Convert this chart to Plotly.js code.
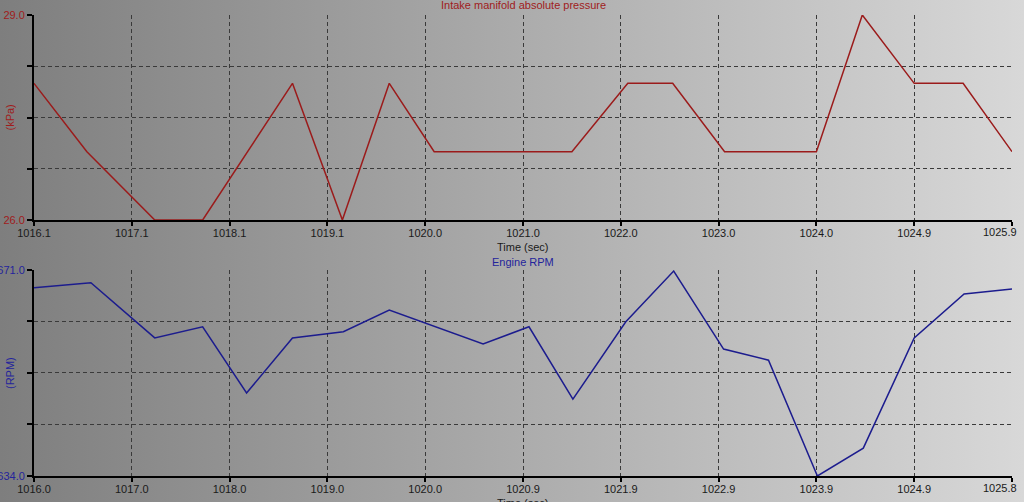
<!DOCTYPE html>
<html>
<head>
<meta charset="utf-8">
<script src="https://cdn.plot.ly/plotly-3.0.1.min.js"></script>
<style>
  html, body { margin: 0; padding: 0; }
  #chart { width: 1024px; height: 502px; background: linear-gradient(to right, #7e7e7e, #d8d8d8); }
</style>
</head>
<body>
<div id="chart"></div>
<script>
// ---- Data: Intake manifold absolute pressure ----
const mapTime = [1016.12, 1016.65, 1017.33, 1017.81, 1018.71, 1019.21, 1019.68, 1020.13, 1021.51, 1022.07, 1022.52, 1023.04, 1023.96, 1024.42, 1024.94, 1025.43, 1025.92];
const mapKpa  = [28, 27, 26, 26, 28, 26, 28, 27, 27, 28, 28, 27, 27, 29, 28, 28, 27];

// ---- Data: Engine RPM ----
const rpmTime = [1016.04, 1016.61, 1017.25, 1017.73, 1018.17, 1018.63, 1019.14, 1019.60, 1020.54, 1021.00, 1021.44, 1021.97, 1022.45, 1022.95, 1023.40, 1023.89, 1024.35, 1024.86, 1025.36, 1025.84];
const rpmVal  = [667.8, 668.7, 658.8, 660.8, 648.9, 658.8, 659.9, 663.8, 657.7, 660.8, 647.8, 661.7, 670.8, 656.8, 654.8, 634.0, 639.0, 658.8, 666.7, 667.6];

// ---- Tick positions / labels ----
const mapXTicks  = [1016.12, 1017.10, 1018.08, 1019.06, 1020.04, 1021.02, 1022.00, 1022.98, 1023.96, 1024.94, 1025.92];
const mapXLabels = ["1016.1", "1017.1", "1018.1", "1019.1", "1020.0", "1021.0", "1022.0", "1023.0", "1024.0", "1024.9", "1025.9"];
const rpmXTicks  = [1016.04, 1017.02, 1018.00, 1018.98, 1019.96, 1020.94, 1021.92, 1022.90, 1023.88, 1024.86, 1025.84];
const rpmXLabels = ["1016.0", "1017.0", "1018.0", "1019.0", "1020.0", "1020.9", "1021.9", "1022.9", "1023.9", "1024.9", "1025.8"];
const mapYTicks  = [26, 26.75, 27.5, 28.25, 29];
const mapYLabels = ["26.0", "", "", "", "29.0"];
const rpmYTicks  = [634, 643.25, 652.5, 661.75, 671];
const rpmYLabels = ["634.0", "", "", "", "671.0"];

const RED = "#a01c1c";
const BLUE = "#24249c";
const DARK = "#1a1a1a";
const FONT = "Liberation Sans, Arial, sans-serif";

const traces = [
  { x: mapTime, y: mapKpa, xaxis: "x", yaxis: "y", mode: "lines", line: { color: "#9b1b1b", width: 1.5 }, hoverinfo: "none" },
  { x: rpmTime, y: rpmVal, xaxis: "x2", yaxis: "y2", mode: "lines", line: { color: "#1c1c8e", width: 1.5 }, hoverinfo: "none" }
];

// the last x label is drawn right-aligned at its tick (as in the reference), so the axis shows all but the last
function xAxis(range, vals, text, anchor) {
  return {
    range: range, tickmode: "array", tickvals: vals,
    ticktext: text.map((t, i) => (i === text.length - 1 ? "" : t)), anchor: anchor,
    showline: true, linecolor: "#000", linewidth: 2, mirror: false,
    ticks: "outside", ticklen: 4, tickwidth: 2, tickcolor: "#000", ticklabelstandoff: -2,
    showgrid: true, gridcolor: "#3a3a3a", gridwidth: 1, griddash: "4px,3px",
    zeroline: false, tickfont: { family: FONT, size: 11, color: DARK }, fixedrange: true
  };
}
function yAxis(range, vals, text, domain, anchor, color) {
  return {
    range: range, domain: domain, tickmode: "array", tickvals: vals, ticktext: text, anchor: anchor,
    showline: true, linecolor: "#000", linewidth: 2, mirror: false,
    ticks: "outside", ticklen: 5, tickwidth: 2, tickcolor: "#000",
    showgrid: true, gridcolor: "#3a3a3a", gridwidth: 1, griddash: "4px,3px",
    zeroline: false, tickfont: { family: FONT, size: 11, color: color }, fixedrange: true
  };
}

function lastLabel(xref, yref, vals, text) {
  return { text: text[text.length - 1], xref: xref, x: vals[vals.length - 1], xanchor: "right", xshift: 7,
           yref: yref, y: 0, yanchor: "top", yshift: -4, showarrow: false,
           font: { family: FONT, size: 11, color: DARK } };
}

const layout = {
  width: 1024, height: 502,
  margin: { l: 34, r: 12, t: 15, b: 26 },
  paper_bgcolor: "rgba(0,0,0,0)", plot_bgcolor: "rgba(0,0,0,0)",
  showlegend: false,
  font: { family: FONT, size: 11 },
  xaxis: xAxis([1016.12, 1025.92], mapXTicks, mapXLabels, "y"),
  yaxis: yAxis([26, 29], mapYTicks, mapYLabels, [0.5553, 1], "x", RED),
  xaxis2: xAxis([1016.04, 1025.84], rpmXTicks, rpmXLabels, "y2"),
  yaxis2: yAxis([634, 671], rpmYTicks, rpmYLabels, [0, 0.4469], "x2", BLUE),
  annotations: [
    { text: "Intake manifold absolute pressure", xref: "paper", x: 0.5, yref: "y domain", y: 1, yanchor: "middle", yshift: 10, showarrow: false, font: { family: FONT, size: 11, color: RED } },
    { text: "Time (sec)", xref: "paper", x: 0.5, yref: "y domain", y: 0, yanchor: "middle", yshift: -27, showarrow: false, font: { family: FONT, size: 11, color: DARK } },
    { text: "Engine RPM", xref: "paper", x: 0.5, yref: "y2 domain", y: 1, yanchor: "middle", yshift: 8, showarrow: false, font: { family: FONT, size: 11, color: BLUE } },
    { text: "Time (sec)", xref: "paper", x: 0.5, yref: "y2 domain", y: 0, yanchor: "middle", yshift: -27, showarrow: false, font: { family: FONT, size: 11, color: DARK } },
    { text: "(kPa)", xref: "paper", x: 0, xanchor: "center", xshift: -24, yref: "y domain", y: 0.5, yanchor: "middle", textangle: -90, showarrow: false, font: { family: FONT, size: 11, color: RED } },
    { text: "(RPM)", xref: "paper", x: 0, xanchor: "center", xshift: -24, yref: "y2 domain", y: 0.5, yanchor: "middle", textangle: -90, showarrow: false, font: { family: FONT, size: 11, color: BLUE } },
    lastLabel("x", "y domain", mapXTicks, mapXLabels),
    lastLabel("x2", "y2 domain", rpmXTicks, rpmXLabels)
  ]
};

Plotly.newPlot("chart", traces, layout, { displayModeBar: false, staticPlot: true });
</script>
</body>
</html>
